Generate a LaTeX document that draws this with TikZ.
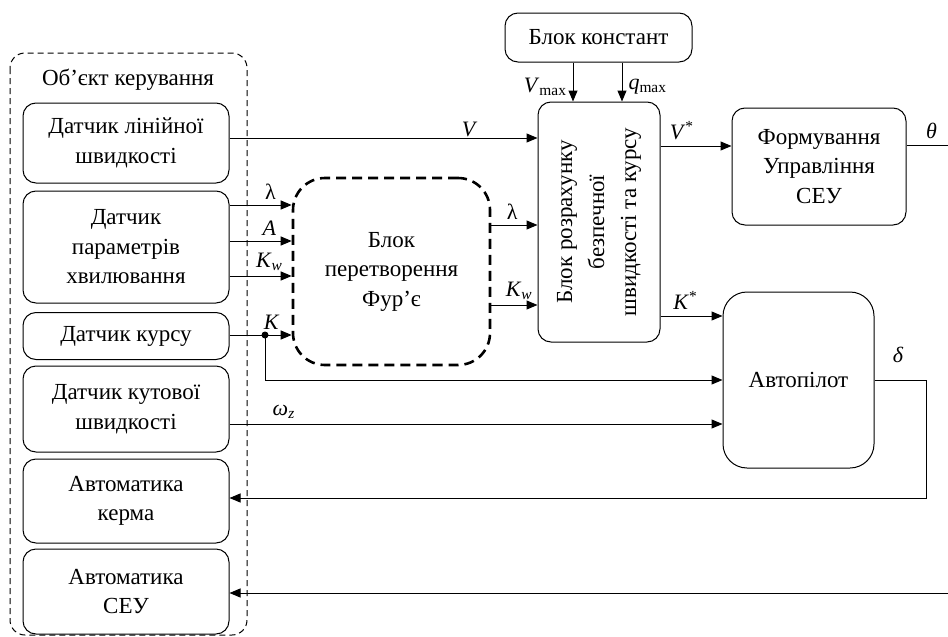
\documentclass[tikz,border=0pt]{standalone}
\usepackage{fontspec}
\setmainfont{Liberation Serif}
\usetikzlibrary{arrows.meta}

\tikzset{
  block/.style={draw, line width=1pt, rounded corners=13pt, align=center,
    inner sep=0pt, font=\fontsize{23}{29.5}\selectfont},
  conn/.style={line width=1pt},
  arr/.style={conn, -{Triangle[length=11pt,width=9pt]}},
  lbl/.style={font=\fontsize{22}{24}\selectfont, inner sep=1pt}
}

\begin{document}
\begin{tikzpicture}[x=1pt,y=-1pt]
  \useasboundingbox (0,0) rectangle (948,637);

  % object of control (dashed frame)
  \draw[line width=1pt, dash pattern=on 6pt off 4pt, rounded corners=15pt]
    (10,53) rectangle (247,635);
  \node[block, draw=none] (objtitle) at (128,80) {Об’єкт керування};

  % sensors and actuators
  \node[block, minimum width=206pt, minimum height=80pt] (sensV) at (126,143) {Датчик лінійної\\швидкості};
  \node[block, minimum width=206pt, minimum height=112pt] (sensW) at (126,247) {Датчик\\параметрів\\хвилювання};
  \node[block, minimum width=206pt, minimum height=47pt] (sensK) at (126,336) {Датчик курсу};
  \node[block, minimum width=206pt, minimum height=86pt] (sensOm) at (126,409) {Датчик кутової\\швидкості};
  \node[block, minimum width=206pt, minimum height=84pt] (autoRud) at (126,501) {Автоматика\\керма};
  \node[block, minimum width=206pt, minimum height=85pt] (autoSEU) at (126,591.5) {Автоматика\\СЕУ};

  % processing blocks
  \node[block, line width=2.6pt, dash pattern=on 10pt off 6pt, rounded corners=32pt,
    minimum width=197pt, minimum height=187pt] (fourier) at (391.5,271.5) {Блок\\перетворення\\Фур’є};
  \node[block, minimum width=122pt, minimum height=240pt] (calc) at (599,222) {};
  \node[block, draw=none, rotate=90, font=\fontsize{23}{32}\selectfont] (calctext) at (calc.center)
    {Блок розрахунку\\безпечної\\швидкості та курсу};
  \node[block, minimum width=187pt, minimum height=49pt] (const) at (598.5,37.5) {Блок констант};
  \node[block, minimum width=174pt, minimum height=117pt] (form) at (819,166.5) {Формування\\Управління\\СЕУ};
  \node[block, rounded corners=24pt, minimum width=151pt, minimum height=176pt] (autop) at (798.5,380) {Автопілот};

  % free ends
  \coordinate (kdot) at (265,335);
  \coordinate (thetaOut) at (948,145);
  \coordinate (dturn) at (926,498);
  \coordinate (seuIn) at (948,593);

  % speed
  \draw[arr] ([yshift=5pt]sensV.east) coordinate (vA) -- (calc.west |- vA)
    node[lbl, pos=0.78, above] {\textit{V}};

  % wave parameters
  \draw[arr] ([yshift=42pt]sensW.east) coordinate (wA) -- (fourier.west |- wA)
    node[lbl, pos=0.66, above=4pt] {λ};
  \draw[arr] ([yshift=6pt]sensW.east) coordinate (wB) -- (fourier.west |- wB)
    node[lbl, pos=0.64, above=4pt] {\textit{A}};
  \draw[arr] ([yshift=-29pt]sensW.east) coordinate (wC) -- (fourier.west |- wC)
    node[lbl, pos=0.64, above=4pt] {\textit{K}\textsubscript{\textit{w}}};

  % course
  \draw[arr] (sensK.east |- kdot) -- (fourier.west |- kdot)
    node[lbl, pos=0.68, above=4pt] {\textit{K}};
  \fill (kdot) circle (3.5pt);
  \draw[arr] (kdot) |- (autop.west);

  % angular rate
  \draw[arr] ([yshift=-15pt]sensOm.east) coordinate (omA) -- (autop.west |- omA)
    node[lbl, pos=0.11, above=4pt] {\textit{ω}\textsubscript{\textit{z}}};

  % Fourier outputs
  \draw[arr] ([yshift=46.5pt]fourier.east) coordinate (fA) -- (calc.west |- fA)
    node[lbl, pos=0.45, above=4pt] {λ};
  \draw[arr] ([yshift=-33.5pt]fourier.east) coordinate (fB) -- (calc.west |- fB)
    node[lbl, pos=0.6, above=4pt] {\textit{K}\textsubscript{\textit{w}}};

  % constants
  \draw[arr] ([xshift=-25.5pt]const.south) coordinate (cA) -- (calc.north -| cA)
    node[lbl, pos=0.62, left=5pt] {\textit{V}\textsubscript{max}};
  \draw[arr] ([xshift=23.5pt]const.south) coordinate (cB) -- (calc.north -| cB)
    node[lbl, pos=0.62, right=5pt] {\textit{q}\textsubscript{max}};

  % calculated set points
  \draw[arr] ([yshift=76pt]calc.east) coordinate (sA) -- (form.west |- sA)
    node[lbl, pos=0.3, above=5pt] {\textit{V}\textsuperscript{*}};
  \draw[arr] ([yshift=-94pt]calc.east) coordinate (sB) -- (autop.west |- sB)
    node[lbl, pos=0.4, above=5pt] {\textit{K}\textsuperscript{*}};

  % outputs and feedback to actuators
  \draw[conn] (form.east |- thetaOut) -- (thetaOut)
    node[lbl, pos=0.6, above=5pt] {\textit{θ}};
  \draw[arr] (autop.east) -| (dturn) -- (autoRud.east |- dturn);
  \node[lbl] (deltalbl) at (898,355) {\textit{δ}};
  \draw[arr] (seuIn) -- (autoSEU.east |- seuIn);
\end{tikzpicture}
\end{document}
